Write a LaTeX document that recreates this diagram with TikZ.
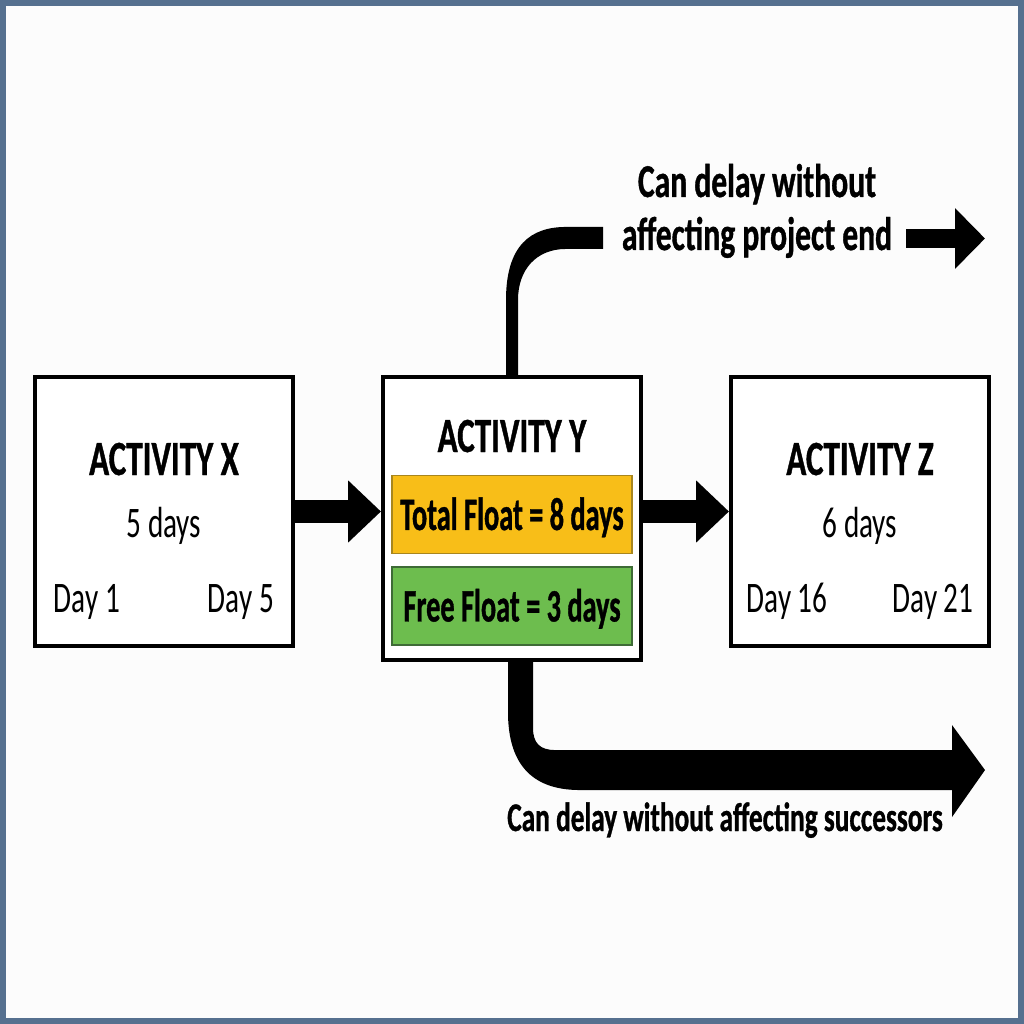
\documentclass[tikz,border=0pt]{standalone}
\usepackage{fontspec}
\setmainfont{Carlito}[FakeStretch=0.67, BoldFeatures={FakeBold=0.8}]
\newfontfamily\floatfont{Carlito}[FakeStretch=0.61, BoldFeatures={FakeBold=0.8}]
\usepackage{tikz}
\usetikzlibrary{positioning}
\usetikzlibrary{arrows.meta}
\usetikzlibrary{calc}
\definecolor{framecol}{HTML}{56708F}
\definecolor{pagecol}{HTML}{FCFCFC}
\definecolor{totalfill}{HTML}{F8BE18}
\definecolor{totalline}{HTML}{A8861E}
\definecolor{freefill}{HTML}{6DBD4E}
\definecolor{freeline}{HTML}{3E6B36}

\begin{document}
\begin{tikzpicture} [
            x=0.025cm, y=-0.025cm,
            actbox/.style={draw, line width=0.1cm, fill=white, minimum width=6.45cm},
            title/.style={font=\fontsize{35}{40}\selectfont\bfseries, inner sep=0pt, anchor=base},
            daytxt/.style={font=\fontsize{31}{36}\selectfont, inner sep=0pt, anchor=base},
            floatbox/.style={line width=0.04cm, minimum width=6.01cm, minimum height=1.94cm,
                inner sep=0pt, font=\floatfont\fontsize{33}{38}\selectfont\bfseries,
                text height=22pt, text depth=0pt},
            note/.style={font=\fontsize{33.5}{37.7}\selectfont\bfseries, inner sep=0pt, align=center},
            fatarrow/.style={line width=0.575cm, -{Triangle[length=0.82cm, width=1.5cm]}},
            endarrow/.style={line width=0.475cm, -{Triangle[length=0.75cm, width=1.475cm]}}
        ]
        \useasboundingbox (0,0) rectangle (1024,1024);
        \fill[pagecol] (0,0) rectangle (1024,1024);
        \draw[framecol, line width=0.15cm] (3,3) rectangle (1021,1021);

        \node[actbox, minimum height=6.725cm] (actx) at (164,511.5) {};
        \node[actbox, minimum height=7.075cm] (acty) at (512,518.5) {};
        \node[actbox, minimum height=6.725cm] (actz) at (860,511.5) {};

        \node[title] (titlex) at (164,475) {ACTIVITY X};
        \node[daytxt] (durx) at (164,537) {5 days};
        \node[daytxt] (startx) at (87,612) {Day 1};
        \node[daytxt] (endx) at (241,612) {Day 5};

        \node[title] (titley) at (512,452) {ACTIVITY Y};
        \node[floatbox, draw=totalline, fill=totalfill] (totalfl) at (512,514.5) {Total Float = 8 days};
        \node[floatbox, draw=freeline, fill=freefill] (freefl) at (512,606) {Free Float = 3 days};

        \node[title] (titlez) at (860,475) {ACTIVITY Z};
        \node[daytxt] (durz) at (860,537) {6 days};
        \node[daytxt] (startz) at (787,612) {Day 16};
        \node[daytxt] (endz) at (933,612) {Day 21};

        \draw[fatarrow] (actx.east) -- (acty.west |- actx.east);
        \draw[fatarrow] (acty.east |- actz.west) -- (actz.west);

        % total float branch
        \node[note, anchor=base] (delayend) at (757,250) {Can delay without\\affecting project end};
        \fill (acty.north) ++(-6,0) -- ++(0,-75)
            .. controls +(0,-55) and +(-35,0) .. ++(60,-73) -- ++(37,0) -- ++(0,22) -- ++(-37,0)
            .. controls +(-30,0) and +(0,-30) .. ++(-48,51) -- ++(0,75) -- cycle;
        \coordinate (endtip) at (985,238.5);
        \draw[endarrow, shorten <=0.35cm] (delayend.east |- endtip) -- (endtip);

        % free float branch
        \fill (acty.south) ++(-4,0) -- ++(0,50)
            .. controls +(0,50) and +(-50,0) .. ++(72,78) -- ++(372,0) -- ++(0,27)
            -- ++(33,-47) -- ++(-33,-45) -- ++(0,25) -- ++(-397,0)
            .. controls +(-15,0) and +(0,15) .. ++(-22,-22) -- ++(0,-66) -- cycle;
        \node[note, font=\fontsize{29}{34}\selectfont\bfseries, anchor=base] (delaysucc) at (725,831)
            {Can delay without affecting successors};
    \end{tikzpicture}
\end{document}
